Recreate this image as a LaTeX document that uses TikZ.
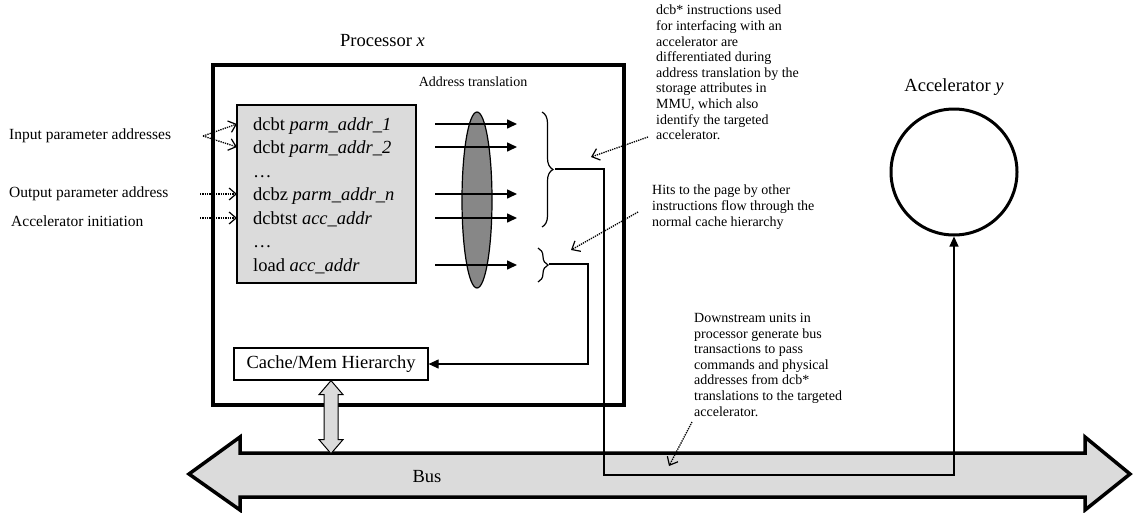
\documentclass[tikz,border=0pt]{standalone}
\usepackage{fontspec}
\setmainfont{Liberation Serif}
\usepackage{tikz}
\usetikzlibrary{arrows.meta,positioning,shapes.geometric,calc,decorations.pathreplacing}
\tikzset{
  proc/.style={rectangle, draw, line width=3.5pt, minimum width=411pt,
    minimum height=340pt, inner sep=0pt},
  instrbox/.style={rectangle, draw, line width=1.2pt, fill=black!14,
    minimum width=179pt, minimum height=178pt, inner sep=0pt},
  instr/.style={anchor=base west, inner sep=0pt, font=\fontsize{18.5}{20}\selectfont},
  cachebox/.style={rectangle, draw, line width=1.2pt, fill=white,
    minimum width=194pt, minimum height=32pt, inner sep=0pt,
    font=\fontsize{18.5}{20}\selectfont},
  xlate/.style={ellipse, draw, line width=1.2pt, fill=black!47,
    minimum width=30pt, minimum height=176pt},
  accel/.style={circle, draw, line width=3pt, minimum size=126pt},
  title/.style={font=\fontsize{18.5}{20}\selectfont, inner sep=0pt},
  side/.style={anchor=west, inner sep=0pt, font=\fontsize{15.5}{17}\selectfont},
  note/.style={anchor=north west, inner sep=0pt, align=left,
    font=\fontsize{14}{15.6}\selectfont},
  tr/.style={-{Triangle[length=10pt,width=9pt]}, line width=1.6pt},
  hint/.style={densely dotted, line width=1.3pt,
    -{Straight Barb[length=7pt,width=12pt,line width=1.2pt]}},
  wire/.style={line width=1.1pt},
  brc/.style={decorate, decoration={brace, amplitude=11pt}, line width=1.2pt},
  block/.style={draw, fill=black!14},
}

\begin{document}
\begin{tikzpicture}[x=1pt, y=-1pt]
  \useasboundingbox (0,0) rectangle (1133,512);

  % bus
  \draw[block, line width=3.5pt] (189,474) -- (240,437) -- (240,453) -- (1085,453)
    -- (1085,437) -- (1130,474) -- (1085,510) -- (1085,497) -- (240,497)
    -- (240,510) -- cycle;
  \node[title] (bus) at (427,477) {Bus};

  \node[proc] (cpu) at (418.5,235) {};
  \node[title, above=16pt of cpu.north, xshift=-36pt] (cpulbl) {Processor \textit{x}};
  \node[note, anchor=center] (xl) at (473,82) {Address translation};

  \node[instrbox] (list) at (326.5,194) {};
  \node[instr] (i1) at (253,130) {dcbt \textit{parm\_addr\_1}};
  \node[instr] (i2) at (253,153) {dcbt \textit{parm\_addr\_2}};
  \node[instr] (d1) at (253,177) {\ldots};
  \node[instr] (i3) at (253,200) {dcbz \textit{parm\_addr\_n}};
  \node[instr] (i4) at (253,224) {dcbtst \textit{acc\_addr}};
  \node[instr] (d2) at (253,247) {\ldots};
  \node[instr] (i5) at (253,271) {load \textit{acc\_addr}};

  \node[xlate] (mmu) at (477,200) {};
  \foreach \n/\y in {a/124,b/147,c/194,d/218,e/265} {
    \coordinate (s\n) at (435,\y);
    \coordinate (t\n) at (517,\y);
    \draw[tr] (s\n) -- (t\n);
  }

  \draw[brc] (542,112) -- (542,227);
  \draw[brc, decoration={amplitude=10pt}] (538,248) -- (538,282);
  \coordinate (uptip) at (555,169);
  \coordinate (lowtip) at (549,264);

  \node[cachebox] (cache) at (331,364) {Cache/Mem Hierarchy};
  \node[accel] (acc) at (954,172) {};
  \node[title, above=12pt of acc] (acclbl) {Accelerator \textit{y}};

  % cache <-> bus
  \draw[block, line width=1pt] (cache.south) -- ++(12,14) -- ++(-5,0) -- ++(0,45)
    -- ++(5,0) -- ++(-12,14) -- ++(-12,-14) -- ++(5,0) -- ++(0,-45) -- ++(-5,0) -- cycle;

  \coordinate (bend) at (588,364);
  \coordinate (drop) at (604,475);
  \draw[wire, -{Triangle[length=10pt,width=9pt]}] (lowtip) -| (bend) -- (cache.east);
  \draw[wire, -{Triangle[length=10pt,width=9pt]}] (uptip) -| (drop) -| (acc.south);

  % left labels
  \node[side] (inp) at (9,136) {Input parameter addresses};
  \node[side] (outp) at (9,194) {Output parameter address};
  \node[side] (init) at (11,221) {Accelerator initiation};
  \coordinate (inpfrom) at (203,136);
  \draw[hint] (inpfrom) -- (237,124);
  \draw[hint] (inpfrom) -- (237,147);
  \draw[hint] (200,194) -- (237,194);
  \draw[hint] (200,218) -- (237,218);

  % notes
  \node[note] (na) at (656,5) {dcb* instructions used\\for interfacing with an\\accelerator are\\differentiated during\\address translation by the\\storage attributes in\\MMU, which also\\identify the targeted\\accelerator.};
  \node[note] (nb) at (652,185) {Hits to the page by other\\instructions flow through the\\normal cache hierarchy};
  \node[note] (nc) at (694,313) {Downstream units in\\processor generate bus\\transactions to pass\\commands and physical\\addresses from dcb*\\translations to the targeted\\accelerator.};
  \draw[hint] (648,137) -- (591,157);
  \draw[hint] (638,212) -- (571,250);
  \draw[hint] (692,422) -- (669,466);
\end{tikzpicture}
\end{document}
